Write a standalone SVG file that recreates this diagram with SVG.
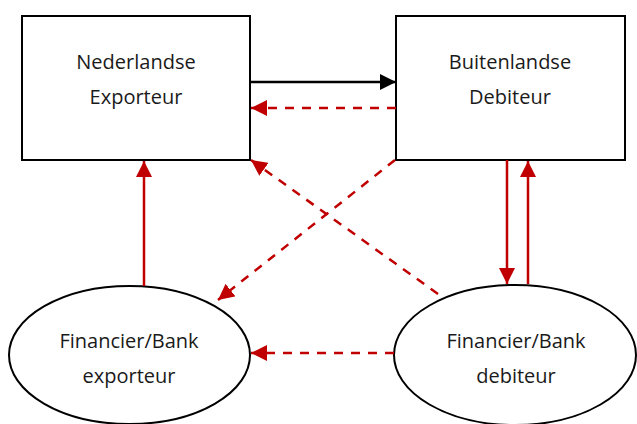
<svg xmlns="http://www.w3.org/2000/svg" width="637" height="424" viewBox="0 0 637 424">
<defs>
<style>
.node{fill:#fff;stroke:#000;stroke-width:2}
.t{font-family:"Open Sans","Liberation Sans",sans-serif;font-size:20px;fill:#1a1a1a;text-anchor:middle}
.red{stroke:#C00000;stroke-width:2.5;fill:none}
.dash{stroke-dasharray:9,8}
.blk{stroke:#000;stroke-width:2.5;fill:none}
</style>
<marker id="ab" viewBox="0 0 10 10" refX="10" refY="5" markerWidth="16" markerHeight="16" markerUnits="userSpaceOnUse" orient="auto">
<path d="M0,0 L10,5 L0,10 z" fill="#000"/>
</marker>
<marker id="arr" viewBox="0 0 10 10" refX="10" refY="5" markerWidth="16" markerHeight="16" markerUnits="userSpaceOnUse" orient="auto">
<path d="M0,0 L10,5 L0,10 z" fill="#C00000"/>
</marker>
</defs>
<rect width="637" height="424" fill="#fff"/>
<g id="nederlandse-exporteur">
<rect class="node" x="22" y="16" width="228" height="144"/>
<text class="t" x="136" y="69">Nederlandse</text>
<text class="t" x="136" y="104">Exporteur</text>
</g>
<g id="buitenlandse-debiteur">
<rect class="node" x="396" y="16" width="229" height="144"/>
<text class="t" x="510" y="69">Buitenlandse</text>
<text class="t" x="510" y="104">Debiteur</text>
</g>
<g id="bank-exporteur">
<ellipse class="node" cx="129.5" cy="355" rx="120.5" ry="69"/>
<text class="t" x="129" y="348">Financier/Bank</text>
<text class="t" x="129" y="383">exporteur</text>
</g>
<g id="bank-debiteur">
<ellipse class="node" cx="515" cy="355" rx="121" ry="70"/>
<text class="t" x="516" y="348">Financier/Bank</text>
<text class="t" x="516" y="383">debiteur</text>
</g>
<g id="connectors">
<line class="blk" x1="250" y1="82" x2="396" y2="82" marker-end="url(#ab)"/>
<line class="red dash" x1="396" y1="108" x2="251" y2="108" marker-end="url(#arr)"/>
<line class="red" x1="507" y1="160" x2="507" y2="284" marker-end="url(#arr)"/>
<line class="red" x1="528" y1="284" x2="528" y2="161" marker-end="url(#arr)"/>
<line class="red" x1="144" y1="286" x2="144" y2="161" marker-end="url(#arr)"/>
<line class="red dash" x1="395" y1="160" x2="218" y2="300" marker-end="url(#arr)"/>
<line class="red dash" x1="438" y1="294" x2="251" y2="160" marker-end="url(#arr)"/>
<line class="red dash" x1="394" y1="353" x2="251" y2="353" marker-end="url(#arr)"/>
</g>
</svg>
